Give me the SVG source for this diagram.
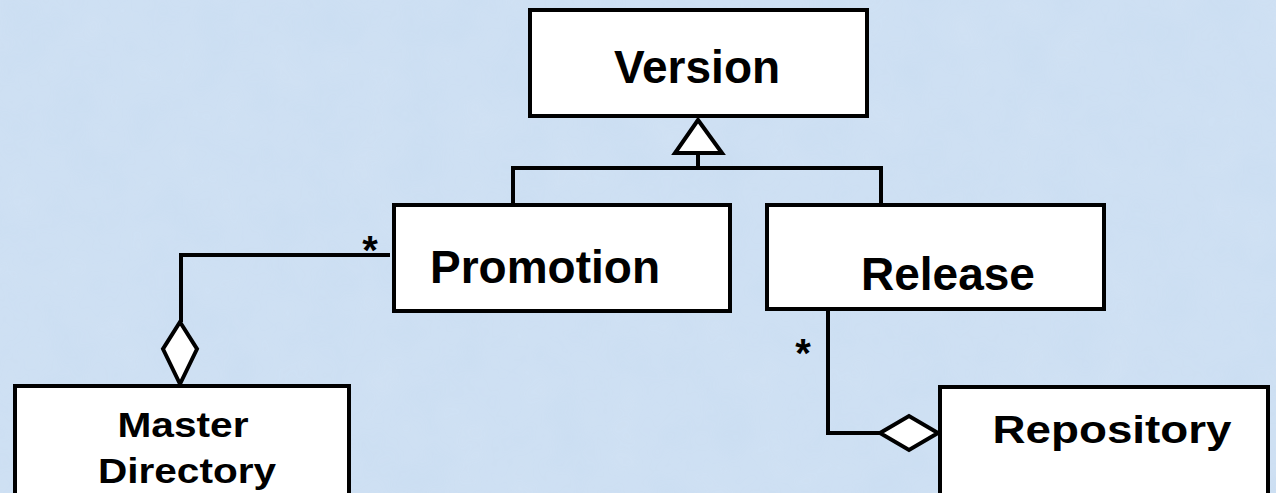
<svg xmlns="http://www.w3.org/2000/svg" width="1276" height="493" viewBox="0 0 1276 493">
<style>
.box{fill:#ffffff;stroke:#000000;stroke-width:4}
.lbl{font-family:"Liberation Sans",Arial,sans-serif;font-weight:bold;fill:#000000;text-anchor:middle}
.ln{fill:none;stroke:#000000;stroke-width:4}
.hd{fill:#ffffff;stroke:#000000;stroke-width:4;stroke-linejoin:miter}
</style>
<defs>
<filter id="tex" x="0" y="0" width="100%" height="100%">
<feTurbulence type="fractalNoise" baseFrequency="0.02" numOctaves="3" seed="4" result="n"/>
<feColorMatrix in="n" type="matrix" values="0 0 0 0 0.78  0 0 0 0 0.85  0 0 0 0 0.95  0 0 0 0.35 0"/>
</filter>
</defs>
<rect x="0" y="0" width="1276" height="493" fill="#cbdef2"/>
<rect x="0" y="0" width="1276" height="493" filter="url(#tex)" opacity="0.6"/>
<g id="connectors">
<polyline class="ln" points="698,155 698,168"/>
<polyline class="ln" points="513,205 513,168 881,168 881,205"/>
<polygon class="hd" points="698,120 722,153 675,153"/>
<polyline class="ln" points="390,255 181,255 181,322"/>
<polygon class="hd" points="180,322 197,349 180,384 163,349"/>
<polyline class="ln" points="828,309 828,433 880,433"/>
<polygon class="hd" points="880,433 909,416 938,433 909,450"/>
<text class="lbl" x="370" y="264" font-size="40">*</text>
<text class="lbl" x="803" y="367" font-size="40">*</text>
</g>
<g id="version">
<rect class="box" x="530" y="10" width="337" height="106"/>
<text class="lbl" x="697" y="83" font-size="46">Version</text>
</g>
<g id="promotion">
<rect class="box" x="394" y="205" width="336" height="106"/>
<text class="lbl" x="545" y="283" font-size="46">Promotion</text>
</g>
<g id="release">
<rect class="box" x="767" y="205" width="337" height="104"/>
<text class="lbl" x="948" y="290" font-size="46">Release</text>
</g>
<g id="master-directory">
<rect class="box" x="15" y="386" width="334" height="120"/>
<text class="lbl" x="183" y="437" font-size="35" textLength="131" lengthAdjust="spacingAndGlyphs">Master</text>
<text class="lbl" x="187" y="483" font-size="35" textLength="178" lengthAdjust="spacingAndGlyphs">Directory</text>
</g>
<g id="repository">
<rect class="box" x="940" y="387" width="328" height="120"/>
<text class="lbl" x="1112" y="443" font-size="38" textLength="239" lengthAdjust="spacingAndGlyphs">Repository</text>
</g>
</svg>
